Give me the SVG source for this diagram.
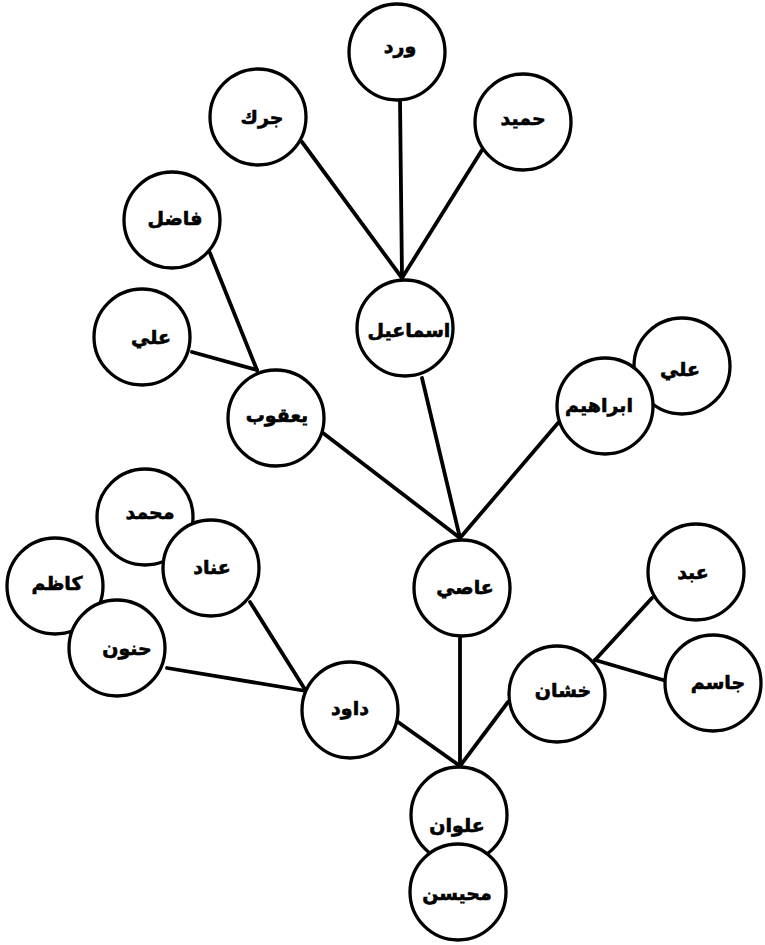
<svg xmlns="http://www.w3.org/2000/svg" width="765" height="945" viewBox="0 0 765 945">
<style>
.n circle{fill:#fff;stroke:#000;stroke-width:3.3}
.n text{font-family:"DejaVu Sans","Noto Sans",sans-serif;font-weight:bold;font-size:19px;text-anchor:middle;dominant-baseline:central;fill:#000;stroke:#000;stroke-width:0.6}
#edges line{stroke:#000;stroke-width:3.8;stroke-linecap:round}
</style>
<rect width="765" height="945" fill="#fff"/>
<g id="edges">
<line x1="302" y1="142" x2="402" y2="278"/>
<line x1="400" y1="100" x2="402" y2="278"/>
<line x1="482" y1="150" x2="402" y2="278"/>
<line x1="210" y1="253" x2="257" y2="370"/>
<line x1="192" y1="352" x2="257" y2="370"/>
<line x1="323" y1="433" x2="460" y2="538"/>
<line x1="422" y1="378" x2="460" y2="538"/>
<line x1="558" y1="423" x2="460" y2="538"/>
<line x1="460" y1="638" x2="460" y2="766"/>
<line x1="398" y1="722" x2="460" y2="766"/>
<line x1="508" y1="702" x2="460" y2="766"/>
<line x1="250" y1="602" x2="306" y2="691"/>
<line x1="167" y1="668" x2="306" y2="691"/>
<line x1="652" y1="598" x2="595" y2="660"/>
<line x1="663" y1="680" x2="595" y2="660"/>
</g>
<g id="n-ward" class="n"><circle cx="397" cy="52" r="48"/><text x="400" y="46">ورد</text></g>
<g id="n-jark" class="n"><circle cx="258" cy="117" r="48"/><text x="262" y="117">جرك</text></g>
<g id="n-hamid" class="n"><circle cx="523" cy="122" r="48"/><text x="523" y="118">حميد</text></g>
<g id="n-fadil" class="n"><circle cx="172" cy="220" r="48"/><text x="175" y="218">فاضل</text></g>
<g id="n-ismail" class="n"><circle cx="405" cy="328" r="48"/><text x="409" y="330">اسماعيل</text></g>
<g id="n-ali1" class="n"><circle cx="142" cy="337" r="48"/><text x="151" y="337">علي</text></g>
<g id="n-yaqub" class="n"><circle cx="276" cy="418" r="48"/><text x="277" y="415">يعقوب</text></g>
<g id="n-ali2" class="n"><circle cx="682" cy="366" r="48"/><text x="680" y="369">علي</text></g>
<g id="n-ibrahim" class="n"><circle cx="605" cy="406" r="48"/><text x="599" y="405">ابراهيم</text></g>
<g id="n-muhammad" class="n"><circle cx="145" cy="517" r="48"/><text x="150" y="512">محمد</text></g>
<g id="n-inad" class="n"><circle cx="211" cy="568" r="48"/><text x="212" y="567">عناد</text></g>
<g id="n-asi" class="n"><circle cx="462" cy="588" r="48"/><text x="465" y="587">عاصي</text></g>
<g id="n-abd" class="n"><circle cx="696" cy="572" r="48"/><text x="693" y="572">عبد</text></g>
<g id="n-kazim" class="n"><circle cx="55" cy="586" r="48"/><text x="57" y="583">كاظم</text></g>
<g id="n-hanun" class="n"><circle cx="117" cy="648" r="48"/><text x="127" y="648">حنون</text></g>
<g id="n-jasim" class="n"><circle cx="713" cy="683" r="48"/><text x="718" y="682">جاسم</text></g>
<g id="n-khashan" class="n"><circle cx="557" cy="694" r="48"/><text x="563" y="690">خشان</text></g>
<g id="n-dawud" class="n"><circle cx="350" cy="710" r="48"/><text x="350" y="708">داود</text></g>
<g id="n-alwan" class="n"><circle cx="459" cy="815" r="48"/><text x="457" y="825">علوان</text></g>
<g id="n-muhaysin" class="n"><circle cx="458" cy="892" r="48"/><text x="457" y="893">محيسن</text></g>
</svg>
